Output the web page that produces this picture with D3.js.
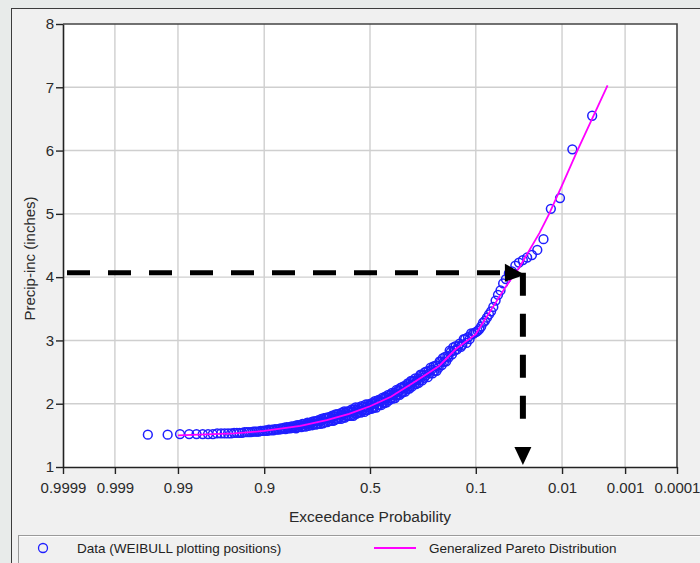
<!DOCTYPE html>
<html>
<head>
<meta charset="utf-8">
<script src="https://cdn.jsdelivr.net/npm/d3@7"></script>
<style>
  body { margin: 0; background: #e8ebea; }
  svg { display: block; font-family: "Liberation Sans", Arial, sans-serif; }
</style>
</head>
<body>
<script>
// exceedance probability ticks on the x axis
const probTicks = [0.9999, 0.999, 0.99, 0.9, 0.5, 0.1, 0.01, 0.001, 0.0001];
const probLabels = ["0.9999", "0.999", "0.99", "0.9", "0.5", "0.1", "0.01", "0.001", "0.0001"];
const valueTicks = [1, 2, 3, 4, 5, 6, 7, 8];

// observed precip (inches) in plotting order, rank 1 = largest -> Weibull i/(n+1)
const precip = [
  6.55, 6.02, 5.25, 5.08, 4.60, 4.43, 4.35, 4.31, 4.27, 4.23,
  4.18, 4.09, 4.06, 3.97, 3.90, 3.79, 3.72, 3.63, 3.53, 3.46,
  3.41, 3.36, 3.31, 3.28, 3.22, 3.18, 3.15, 3.13, 3.12, 3.10,
  3.11, 3.02, 3.05, 2.96, 3.02, 3.02, 2.93, 2.90, 2.95, 2.91,
  2.86, 2.91, 2.84, 2.89, 2.78, 2.82, 2.84, 2.73, 2.75, 2.67,
  2.74, 2.66, 2.72, 2.61, 2.66, 2.67, 2.57, 2.60, 2.52, 2.60,
  2.52, 2.59, 2.48, 2.54, 2.57, 2.48, 2.52, 2.42, 2.51, 2.45,
  2.50, 2.41, 2.45, 2.37, 2.45, 2.46, 2.37, 2.33, 2.40, 2.37, 2.31, 2.40, 2.31, 2.35,
  2.36, 2.27, 2.36, 2.28, 2.24, 2.31, 2.32, 2.23, 2.26, 2.19, 2.28, 2.25, 2.18, 2.26,
  2.17, 2.25, 2.14, 2.20, 2.21, 2.14, 2.22, 2.13, 2.09, 2.17, 2.14, 2.08, 2.17, 2.09,
  2.14, 2.06, 2.12, 2.14, 2.05, 2.02, 2.09, 2.11, 2.01, 2.08, 2.02, 2.09, 1.98, 2.04,
  2.05, 1.98, 2.06, 1.98, 2.04, 1.94, 2.01, 2.04, 1.95, 1.93, 2.00, 2.01, 1.92, 1.97,
  1.99, 1.92, 1.99, 1.90, 1.95, 1.99, 1.90, 1.87, 1.95, 1.95, 1.89, 1.96, 1.86, 1.92, 1.87,
  1.94, 1.86, 1.91, 1.84, 1.94, 1.85, 1.91, 1.81, 1.88, 1.91, 1.81, 1.88, 1.81, 1.88,
  1.81, 1.88, 1.81, 1.86, 1.78, 1.88, 1.78, 1.83, 1.86, 1.76, 1.83, 1.78, 1.84, 1.76,
  1.83, 1.76, 1.83, 1.74, 1.80, 1.73, 1.81, 1.77, 1.73, 1.79, 1.73, 1.78, 1.71, 1.78,
  1.77, 1.71, 1.77, 1.69, 1.74, 1.76, 1.68, 1.72, 1.74, 1.68, 1.73, 1.67, 1.72, 1.68,
  1.72, 1.66, 1.71, 1.67, 1.69, 1.65, 1.70, 1.67, 1.64, 1.68, 1.65, 1.68, 1.63, 1.66,
  1.66, 1.63, 1.66, 1.61, 1.65, 1.63, 1.62, 1.64, 1.61, 1.63, 1.61, 1.63, 1.60, 1.62,
  1.61, 1.60, 1.61, 1.59, 1.60, 1.59, 1.60, 1.58, 1.59, 1.58, 1.59, 1.57, 1.58, 1.57,
  1.57, 1.57, 1.56, 1.56, 1.56, 1.56, 1.55, 1.55, 1.55, 1.55, 1.54, 1.54, 1.54, 1.54,
  1.53, 1.53, 1.53, 1.53, 1.53, 1.52, 1.52, 1.52, 1.52, 1.52, 1.52, 1.51, 1.51
];

// fitted Generalized Pareto curve
const gpdProb  = [0.99, 0.95, 0.9, 0.8, 0.7, 0.6, 0.5, 0.4, 0.3, 0.2, 0.15, 0.1, 0.05, 0.035, 0.02, 0.015, 0.01, 0.006, 0.002];
const gpdValue = [1.50, 1.53, 1.57, 1.65, 1.74, 1.84, 1.96, 2.11, 2.33, 2.60, 2.86, 3.10, 3.85, 4.16, 4.70, 5.00, 5.45, 6.00, 7.03];

// dashed read-off arrows
const designValue = 4.07, designProb = 0.032;

const width = 700, height = 563;
const margin = {left: 63, right: 23, top: 24, bottom: 96};

// inverse standard normal (Acklam)
function qnorm(p) {
  const a = [-39.69683028665376, 220.9460984245205, -275.9285104469687, 138.3577518672690, -30.66479806614716, 2.506628277459239];
  const b = [-54.47609879822406, 161.5858368580409, -155.6989798598866, 66.80131188771972, -13.28068155288572];
  const c = [-0.007784894002430293, -0.3223964580411365, -2.400758277161838, -2.549732539343734, 4.374664141464968, 2.938163982698783];
  const d = [0.007784695709041462, 0.3224671290700398, 2.445134137142996, 3.754408661907416];
  const pl = 0.02425;
  let q, r;
  if (p < pl) {
    q = Math.sqrt(-2 * Math.log(p));
    return (((((c[0]*q+c[1])*q+c[2])*q+c[3])*q+c[4])*q+c[5]) / ((((d[0]*q+d[1])*q+d[2])*q+d[3])*q+1);
  } else if (p <= 1 - pl) {
    q = p - 0.5; r = q * q;
    return (((((a[0]*r+a[1])*r+a[2])*r+a[3])*r+a[4])*r+a[5])*q / (((((b[0]*r+b[1])*r+b[2])*r+b[3])*r+b[4])*r+1);
  }
  q = Math.sqrt(-2 * Math.log(1 - p));
  return -(((((c[0]*q+c[1])*q+c[2])*q+c[3])*q+c[4])*q+c[5]) / ((((d[0]*q+d[1])*q+d[2])*q+d[3])*q+1);
}
// exceedance prob -> normal variate (small prob on the right)
const zOf = p => -qnorm(p);

const x = d3.scaleLinear()
  .domain([zOf(probTicks[0]), zOf(probTicks[probTicks.length - 1])])
  .range([margin.left, width - margin.right]);
const y = d3.scaleLinear()
  .domain([1, 8])
  .range([height - margin.bottom, margin.top]);

const svg = d3.create("svg")
  .attr("width", width)
  .attr("height", height);
document.body.appendChild(svg.node());

// window panel
svg.append("rect")
  .attr("x", 11.5).attr("y", 8.5)
  .attr("width", width).attr("height", height)
  .attr("fill", "#f0f0f0")
  .attr("stroke", "#3c3c3c");

// plot area
svg.append("rect")
  .attr("x", x.range()[0]).attr("y", y.range()[1])
  .attr("width", x.range()[1] - x.range()[0])
  .attr("height", y.range()[0] - y.range()[1])
  .attr("fill", "#fff");

// grid
svg.append("g")
  .selectAll("line")
  .data(probTicks.slice(1, -1))
  .join("line")
  .attr("x1", d => x(zOf(d))).attr("x2", d => x(zOf(d)))
  .attr("y1", y.range()[0]).attr("y2", y.range()[1])
  .attr("stroke", "#cfcfcf").attr("stroke-width", 1.4);
svg.append("g")
  .selectAll("line")
  .data(valueTicks.slice(1, -1))
  .join("line")
  .attr("x1", x.range()[0]).attr("x2", x.range()[1])
  .attr("y1", d => y(d)).attr("y2", d => y(d))
  .attr("stroke", "#cfcfcf").attr("stroke-width", 1.4);

// top / right frame
svg.append("path")
  .attr("d", `M${x.range()[0]},${y.range()[1]}H${x.range()[1]}V${y.range()[0]}`)
  .attr("fill", "none")
  .attr("stroke", "#444")
  .attr("stroke-width", 1.6);

const line = d3.line()
  .x(d => x(zOf(d[0])))
  .y(d => y(d[1]));

// data points (Weibull plotting positions)
const n = precip.length;
svg.append("g")
  .selectAll("circle")
  .data(precip)
  .join("circle")
  .attr("cx", (d, i) => x(zOf((i + 1) / (n + 1))))
  .attr("cy", d => y(d))
  .attr("r", 4.4)
  .attr("fill", "none")
  .attr("stroke", "#1f1fff")
  .attr("stroke-width", 1.5);

// GPD curve over the points
svg.append("path")
  .datum(d3.zip(gpdProb, gpdValue))
  .attr("d", line)
  .attr("fill", "none")
  .attr("stroke", "#ff00ff")
  .attr("stroke-width", 1.8);

// axes
const xAxis = svg.append("g")
  .attr("transform", `translate(0,${y.range()[0]})`)
  .call(d3.axisBottom(x)
    .tickValues(probTicks.map(zOf))
    .tickFormat((d, i) => probLabels[i])
    .tickSize(7)
    .tickSizeOuter(0));
const yAxis = svg.append("g")
  .attr("transform", `translate(${x.range()[0]},0)`)
  .call(d3.axisLeft(y)
    .tickValues(valueTicks)
    .tickFormat(d3.format("d"))
    .tickSize(7)
    .tickSizeOuter(0));
[xAxis, yAxis].forEach(g => {
  g.select(".domain").attr("stroke", "#222").attr("stroke-width", 1.6);
  g.selectAll(".tick line").attr("stroke", "#222").attr("stroke-width", 1.4);
  g.selectAll(".tick text").attr("fill", "#2a2a2a").attr("font-size", 15)
    .attr("font-family", "Liberation Sans, Arial, sans-serif");
});
xAxis.selectAll(".tick text").attr("dy", "1.05em");
yAxis.selectAll(".tick text").attr("x", -9);

// axis titles
svg.append("text")
  .attr("x", (x.range()[0] + x.range()[1]) / 2)
  .attr("y", 522)
  .attr("text-anchor", "middle")
  .attr("font-size", 15.5)
  .attr("fill", "#2a2a2a")
  .text("Exceedance Probability");
svg.append("text")
  .attr("transform", `translate(35,${(y.range()[0] + y.range()[1]) / 2 + 13}) rotate(-90)`)
  .attr("text-anchor", "middle")
  .attr("font-size", 15)
  .attr("fill", "#2a2a2a")
  .text("Precip-inc (inches)");

// dashed read-off arrows
const ax = x(zOf(designProb)), ay = y(designValue);
const dash = svg.append("g").attr("fill", "#000");
dash.append("line")
  .attr("x1", x.range()[0] + 4).attr("x2", ax - 20)
  .attr("y1", ay).attr("y2", ay)
  .attr("stroke", "#000").attr("stroke-width", 5)
  .attr("stroke-dasharray", "23,18");
dash.append("path")
  .attr("d", `M${ax - 18},${ay - 9}L${ax + 2},${ay + 2}L${ax - 18},${ay + 9}Z`);
dash.append("line")
  .attr("x1", ax).attr("x2", ax)
  .attr("y1", ay).attr("y2", y(1) - 31)
  .attr("stroke", "#000").attr("stroke-width", 6)
  .attr("stroke-dasharray", "23,18");
dash.append("path")
  .attr("d", `M${ax - 8.5},${y(1) - 20}L${ax},${y(1) - 2}L${ax + 8.5},${y(1) - 20}Z`);

// legend
const leg = svg.append("g");
leg.append("rect")
  .attr("x", 18.5).attr("y", 535.5)
  .attr("width", width).attr("height", 40)
  .attr("fill", "#f0f0f0")
  .attr("stroke", "#9a9a9a");
leg.append("line")
  .attr("x1", 19.5).attr("x2", width).attr("y1", 536.5).attr("y2", 536.5)
  .attr("stroke", "#fff");
leg.append("circle")
  .attr("cx", 43).attr("cy", 548).attr("r", 4.5)
  .attr("fill", "none").attr("stroke", "#1f1fff").attr("stroke-width", 1.3);
leg.append("text")
  .attr("x", 77).attr("y", 553)
  .attr("font-size", 13.5).attr("fill", "#222")
  .text("Data (WEIBULL plotting positions)");
leg.append("line")
  .attr("x1", 374).attr("x2", 416).attr("y1", 548).attr("y2", 548)
  .attr("stroke", "#ff00ff").attr("stroke-width", 2);
leg.append("text")
  .attr("x", 429).attr("y", 553)
  .attr("font-size", 13.5).attr("fill", "#222")
  .text("Generalized Pareto Distribution");
</script>
</body>
</html>
